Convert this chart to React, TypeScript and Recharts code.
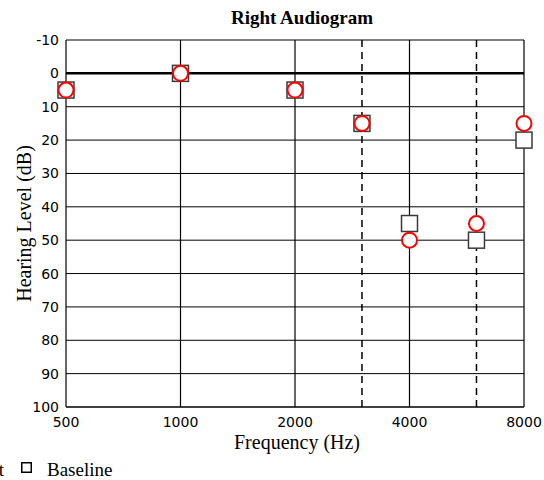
import { ScatterChart, Scatter, XAxis, YAxis, CartesianGrid, ReferenceLine } from "recharts";

// audiogram values
const freqs = [500, 1000, 2000, 3000, 4000, 6000, 8000];
const baselineDb = [5, 0, 5, 15, 45, 50, 20];
const currentDb = [5, 0, 5, 15, 50, 45, 15];

const xTicks = [500, 1000, 2000, 4000, 8000];
const yTicks = [-10, 0, 10, 20, 30, 40, 50, 60, 70, 80, 90, 100];
const solidFreqs = [1000, 2000, 4000, 8000];
const dashedFreqs = [3000, 6000];

const baselineData = freqs.map((f, i) => ({ freq: f, db: baselineDb[i] }));
const currentData = freqs.map((f, i) => ({ freq: f, db: currentDb[i] }));

const serif = "'Liberation Serif', 'Times New Roman', serif";
const sans = "'DejaVu Sans', Verdana, sans-serif";

const SquareMark = (p: any) => (
  <rect x={p.cx - 8} y={p.cy - 8} width={16} height={16} fill="#fdfdfd" stroke="#3a3a3a" strokeWidth={1.5} />
);

const CircleMark = (p: any) => (
  <circle cx={p.cx} cy={p.cy} r={7.5} fill="#fff" stroke="#ff0000" strokeWidth={2} />
);

export default function App() {
  return (
    <div
      style={{
        position: "fixed",
        left: 0,
        top: 0,
        width: 544,
        height: 480,
        overflow: "hidden",
        background: "#fff",
      }}
    >
      <div
        style={{
          position: "absolute",
          top: 7,
          left: 152,
          width: 300,
          textAlign: "center",
          fontFamily: serif,
          fontWeight: "bold",
          fontSize: 19,
        }}
      >
        Right Audiogram
      </div>

      <ScatterChart width={544} height={480} margin={{ top: 40, right: 20, bottom: 0, left: 0 }} style={{ overflow: "visible" }}>
        <CartesianGrid vertical={false} stroke="#000" strokeWidth={1} />
        <XAxis
          type="number"
          dataKey="freq"
          scale="log"
          domain={[500, 8000]}
          ticks={xTicks}
          height={73}
          tickSize={0}
          tickMargin={10}
          axisLine={{ stroke: "#000", strokeWidth: 1.2 }}
          tick={{ fill: "#000", fontSize: 14, fontFamily: sans }}
          label={{
            value: "Frequency (Hz)",
            position: "insideBottom",
            offset: 31,
            dx: 2,
            fill: "#000",
            fontSize: 20,
            fontFamily: serif,
          }}
        />
        <YAxis
          type="number"
          dataKey="db"
          reversed
          domain={[-10, 100]}
          ticks={yTicks}
          width={66}
          tickSize={0}
          tickMargin={7}
          axisLine={{ stroke: "#000", strokeWidth: 1.2 }}
          tick={{ fill: "#000", fontSize: 14, fontFamily: sans }}
          label={{
            value: "Hearing Level (dB)",
            angle: -90,
            position: "insideLeft",
            offset: 24,
            fill: "#000",
            fontSize: 20,
            fontFamily: serif,
            style: { textAnchor: "middle" },
          }}
        />
        {solidFreqs.map((f) => (
          <ReferenceLine key={f} x={f} stroke="#000" strokeWidth={1.2} />
        ))}
        {dashedFreqs.map((f) => (
          <ReferenceLine key={f} x={f} stroke="#000" strokeWidth={1.5} strokeDasharray="7 5" />
        ))}
        <ReferenceLine y={0} stroke="#000" strokeWidth={2.5} />
        <Scatter name="Baseline" data={baselineData} shape={SquareMark} isAnimationActive={false} />
        <Scatter name="Current" data={currentData} shape={CircleMark} isAnimationActive={false} />
      </ScatterChart>

      {/* legend, cut off at the left edge like the original */}
      <div style={{ position: "absolute", top: 459, right: 540, fontFamily: serif, fontSize: 19, whiteSpace: "nowrap" }}>
        <svg width={12} height={12} style={{ marginRight: 14, verticalAlign: "baseline" }}>
          <circle cx={6} cy={6} r={5} fill="#fff" stroke="#ff0000" strokeWidth={1.5} />
        </svg>
        Current
      </div>
      <svg style={{ position: "absolute", left: 21, top: 462 }} width={11} height={11}>
        <rect x={0.75} y={0.75} width={9.5} height={9.5} fill="#fff" stroke="#000" strokeWidth={1.5} />
      </svg>
      <div style={{ position: "absolute", top: 459, left: 47, fontFamily: serif, fontSize: 19 }}>Baseline</div>
    </div>
  );
}
